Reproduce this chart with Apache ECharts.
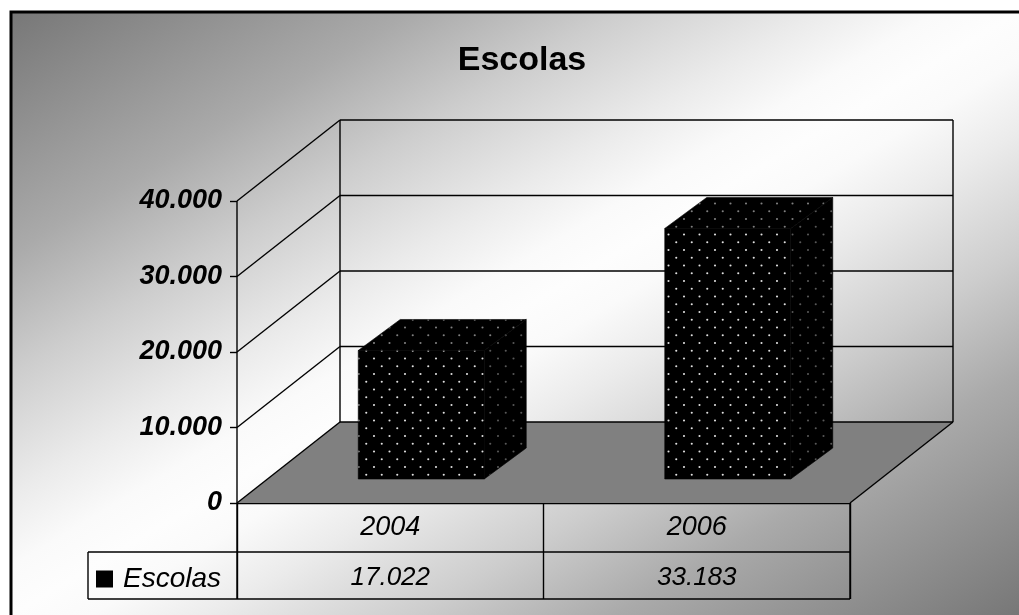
<!DOCTYPE html>
<html><head><meta charset="utf-8">
<style>html,body{margin:0;padding:0;background:#fff;overflow:hidden}#c{width:1019px;height:615px}</style>
<script src="https://cdn.jsdelivr.net/npm/echarts@6/dist/echarts.min.js"></script></head>
<body><div id="c"></div>
<script>
const categories = ['2004', '2006'];
const escolas = [17022, 33183];
const seriesName = 'Escolas';
const valueTicks = [0, 10000, 20000, 30000, 40000];
const titleText = 'Escolas';

const FONT = '"Liberation Sans", Arial, sans-serif';
const WALL = [103, -81];      // depth of the chart box
const BAR_OFFSET = [31, -24]; // bar front face, inside the box
const BAR_DEPTH = [42, -31];
const BAR_W = 126;
const ROW1 = 49, ROW2 = 96;   // table rows below the axis
const LW = 1.4;

function fmt(v) { return String(v).replace(/\B(?=(\d{3})+$)/g, '.'); }
function dots(bg, dot) {
  const c = document.createElement('canvas'); c.width = 31; c.height = 31;
  const g = c.getContext('2d'); g.fillStyle = bg; g.fillRect(0, 0, 31, 31);
  g.fillStyle = dot;
  for (let r = 0; r < 4; r++) for (let k = 0; k < 2; k++) {
    const x = (k * 15.5 + (r % 2) * 7.75 + 2) % 31, y = r * 7.75 + 2;
    g.beginPath(); g.arc(x, y, 1.05, 0, 7); g.fill();
  }
  return c;
}
const frontFill = { image: dots('#000', '#e0e0e0'), repeat: 'repeat' };
const sideFill = { image: dots('#000', '#585858'), repeat: 'repeat' };
const topFill = { image: dots('#000', '#808080'), repeat: 'repeat' };

const line = (x1, y1, x2, y2) => ({ type: 'line', shape: { x1, y1, x2, y2 }, style: { stroke: '#000', lineWidth: LW } });
const poly = (points, fill) => ({ type: 'polygon', shape: { points }, style: { fill, stroke: '#000', lineWidth: 0.6 } });

function renderBox(params, api) {
  const x0 = api.coord(['2004', 0]);
  const size = api.size([1, 0])[0];
  const l = x0[0] - size / 2, r = l + 2 * size, b = x0[1];
  const [dx, dy] = WALL;
  const kids = [{ type: 'polygon', shape: { points: [[l, b], [r, b], [r + dx, b + dy], [l + dx, b + dy]] }, style: { fill: '#808080' } }];
  valueTicks.forEach(t => {
    const y = api.coord(['2004', t])[1];
    kids.push(line(l, y, l + dx, y + dy), line(l + dx, y + dy, r + dx, y + dy));
  });
  const top = api.coord(['2004', valueTicks[valueTicks.length - 1]])[1];
  kids.push(line(l + dx, top + dy, l + dx, b + dy), line(r + dx, top + dy, r + dx, b + dy));
  kids.push(line(r, b, r + dx, b + dy), line(l, top, l, b + ROW2));
  kids.push(line(l, b + ROW1, r, b + ROW1), line(r, b, r, b + ROW2), line(l, b + ROW2, r, b + ROW2));
  kids.push(line(88, b + ROW1, l, b + ROW1), line(88, b + ROW1, 88, b + ROW2), line(88, b + ROW2, l, b + ROW2));
  return { type: 'group', children: kids };
}
function renderBar(params, api) {
  const p = api.coord([api.value(0), api.value(1)]);
  const b0 = api.coord([api.value(0), 0]);
  const xl = p[0] + BAR_OFFSET[0] - BAR_W / 2, xr = xl + BAR_W;
  const yt = p[1] + BAR_OFFSET[1], yb = b0[1] + BAR_OFFSET[1];
  const [ddx, ddy] = BAR_DEPTH;
  return { type: 'group', children: [
    poly([[xr, yt], [xr + ddx, yt + ddy], [xr + ddx, yb + ddy], [xr, yb]], sideFill),
    poly([[xl, yt], [xl + ddx, yt + ddy], [xr + ddx, yt + ddy], [xr, yt]], topFill),
    poly([[xl, yt], [xr, yt], [xr, yb], [xl, yb]], frontFill),
    { type: 'text', style: { text: fmt(api.value(1)), x: b0[0], y: b0[1] + 75, align: 'center', verticalAlign: 'middle',
      font: 'italic 26px ' + FONT, fill: '#000' } }
  ] };
}

const chart = echarts.init(document.getElementById('c'), null, { renderer: 'canvas' });
const fx = 11, fy = 12, fw = 1008, fh = 603;
const len = Math.hypot(fw, fh), ux = fh / len, uy = fw / len, half = fw * fh / len;
const cx = fx + fw / 2, cy = fy + fh / 2;
const g = v => 'rgb(' + v + ',' + v + ',' + v + ')';
chart.setOption({
  animation: false,
  backgroundColor: '#fff',
  title: { text: titleText, left: 517, top: 39, textAlign: 'center',
    textStyle: { fontFamily: FONT, fontSize: 34, fontWeight: 'bold', color: '#000' } },
  legend: { left: 96, top: 565, itemWidth: 17, itemHeight: 17, itemGap: 0, icon: 'rect', selectedMode: false,
    data: [seriesName], textStyle: { fontFamily: FONT, fontSize: 28, fontStyle: 'italic', color: '#000', padding: [0, 0, 0, 5] },
    padding: 0 },
  graphic: [
    { type: 'rect', z: -100, silent: true, shape: { x: fx, y: fy, width: fw + 20, height: fh + 20 },
      style: { stroke: '#000', lineWidth: 3, fill: { type: 'linear', global: true,
        x: cx - ux * half, y: cy - uy * half, x2: cx + ux * half, y2: cy + uy * half,
        colorStops: [[0, 119], [.2, 170], [.3, 205], [.4, 235], [.46, 250], [.5, 253], [.54, 250], [.6, 235], [.7, 205], [.8, 170], [1, 119]]
          .map(s => ({ offset: s[0], color: g(s[1]) })) } } }
  ],
  grid: { left: 237, right: 169, top: 201, bottom: 112 },
  xAxis: { type: 'category', data: categories,
    axisLine: { show: true, lineStyle: { color: '#000', width: LW } },
    axisTick: { show: true, length: 96, alignWithLabel: false, lineStyle: { color: '#000', width: LW } },
    axisLabel: { fontFamily: FONT, fontSize: 27, fontStyle: 'italic', color: '#000', margin: 11 } },
  yAxis: { type: 'value', min: 0, max: 40000, interval: 10000,
    axisLine: { show: false }, splitLine: { show: false },
    axisTick: { show: true, length: 7, lineStyle: { color: '#000', width: LW } },
    axisLabel: { fontFamily: FONT, fontSize: 27, fontStyle: 'italic', fontWeight: 'bold', color: '#000', margin: 15, formatter: fmt } },
  series: [
    { type: 'custom', name: '_box', z: 1, silent: true, renderItem: renderBox, data: [[0, 0]], encode: { x: 0, y: 1 } },
    { type: 'custom', name: seriesName, z: 2, renderItem: renderBar, itemStyle: { color: '#000' },
      data: categories.map((c, i) => [i, escolas[i]]), encode: { x: 0, y: 1 } }
  ]
});
</script></body></html>
